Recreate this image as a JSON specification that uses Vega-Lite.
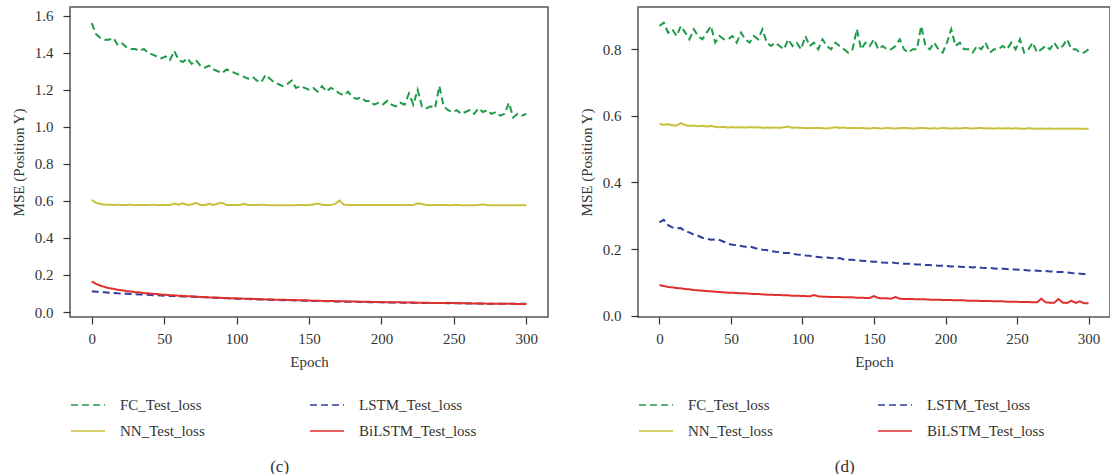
{
  "$schema": "https://vega.github.io/schema/vega-lite/v6.json",
  "background": "white",
  "padding": {"left": 10, "top": 6, "right": 0, "bottom": 0},
  "spacing": 29,
  "config": {
    "font": "Liberation Serif",
    "view": {"stroke": "#555", "strokeWidth": 1.5},
    "axis": {"domain": false, "grid": false, "ticks": true, "tickColor": "#333", "tickSize": 7, "tickWidth": 1.2, "labelFont": "Liberation Serif", "labelFontSize": 15, "labelColor": "#333", "labelPadding": 7, "titleFont": "Liberation Serif", "titleFontSize": 15, "titleFontWeight": "normal", "titleColor": "#333", "titlePadding": 8},
    "axisY": {"labelPadding": 10},
    "title": {"font": "Liberation Serif", "fontSize": 17, "fontWeight": "normal", "color": "#333"},
    "legend": {"orient": "none", "legendX": 0, "legendY": 380, "columns": 2, "columnPadding": 101, "rowPadding": -12, "title": null, "symbolType": "stroke", "symbolSize": 1156, "symbolStrokeWidth": 2, "symbolOpacity": 0.75, "labelFont": "Liberation Serif", "labelFontSize": 15, "labelColor": "#333", "labelOffset": 14, "labelLimit": 200}
  },
  "resolve": {"scale": {"color": "independent", "strokeDash": "independent"}, "legend": {"color": "independent", "strokeDash": "independent"}},
  "datasets": {
    "c": [
      {"e":0,"f":1.56,"n":0.605,"l":0.112,"b":0.165},
      {"e":3,"f":1.50,"n":0.590,"l":0.110,"b":0.152},
      {"e":6,"f":1.48,"n":0.583,"l":0.108,"b":0.142},
      {"e":9,"f":1.47,"n":0.580,"l":0.106,"b":0.135},
      {"e":12,"f":1.47,"n":0.579,"l":0.104,"b":0.129},
      {"e":15,"f":1.48,"n":0.578,"l":0.103,"b":0.125},
      {"e":18,"f":1.44,"n":0.579,"l":0.101,"b":0.120},
      {"e":21,"f":1.45,"n":0.577,"l":0.100,"b":0.117},
      {"e":24,"f":1.43,"n":0.578,"l":0.099,"b":0.113},
      {"e":27,"f":1.42,"n":0.579,"l":0.097,"b":0.111},
      {"e":30,"f":1.42,"n":0.577,"l":0.096,"b":0.107},
      {"e":33,"f":1.41,"n":0.578,"l":0.095,"b":0.106},
      {"e":36,"f":1.42,"n":0.577,"l":0.094,"b":0.102},
      {"e":39,"f":1.40,"n":0.578,"l":0.093,"b":0.101},
      {"e":42,"f":1.39,"n":0.579,"l":0.091,"b":0.098},
      {"e":45,"f":1.38,"n":0.577,"l":0.090,"b":0.097},
      {"e":48,"f":1.37,"n":0.578,"l":0.089,"b":0.094},
      {"e":51,"f":1.38,"n":0.577,"l":0.088,"b":0.093},
      {"e":54,"f":1.36,"n":0.578,"l":0.087,"b":0.091},
      {"e":57,"f":1.41,"n":0.586,"l":0.086,"b":0.090},
      {"e":60,"f":1.36,"n":0.580,"l":0.085,"b":0.088},
      {"e":63,"f":1.35,"n":0.587,"l":0.084,"b":0.087},
      {"e":66,"f":1.37,"n":0.578,"l":0.083,"b":0.085},
      {"e":69,"f":1.34,"n":0.581,"l":0.082,"b":0.085},
      {"e":72,"f":1.36,"n":0.589,"l":0.081,"b":0.083},
      {"e":75,"f":1.33,"n":0.578,"l":0.080,"b":0.081},
      {"e":78,"f":1.32,"n":0.577,"l":0.079,"b":0.081},
      {"e":81,"f":1.33,"n":0.584,"l":0.078,"b":0.079},
      {"e":84,"f":1.31,"n":0.578,"l":0.077,"b":0.078},
      {"e":87,"f":1.30,"n":0.585,"l":0.076,"b":0.078},
      {"e":90,"f":1.29,"n":0.590,"l":0.075,"b":0.076},
      {"e":93,"f":1.31,"n":0.578,"l":0.074,"b":0.076},
      {"e":96,"f":1.30,"n":0.577,"l":0.073,"b":0.074},
      {"e":99,"f":1.29,"n":0.578,"l":0.072,"b":0.074},
      {"e":102,"f":1.28,"n":0.577,"l":0.071,"b":0.073},
      {"e":105,"f":1.27,"n":0.584,"l":0.070,"b":0.072},
      {"e":108,"f":1.26,"n":0.578,"l":0.070,"b":0.071},
      {"e":111,"f":1.27,"n":0.577,"l":0.069,"b":0.071},
      {"e":114,"f":1.25,"n":0.578,"l":0.068,"b":0.070},
      {"e":117,"f":1.24,"n":0.579,"l":0.067,"b":0.069},
      {"e":120,"f":1.28,"n":0.578,"l":0.067,"b":0.068},
      {"e":123,"f":1.26,"n":0.577,"l":0.066,"b":0.068},
      {"e":126,"f":1.24,"n":0.576,"l":0.065,"b":0.067},
      {"e":129,"f":1.23,"n":0.577,"l":0.065,"b":0.066},
      {"e":132,"f":1.22,"n":0.576,"l":0.064,"b":0.066},
      {"e":135,"f":1.23,"n":0.577,"l":0.063,"b":0.065},
      {"e":138,"f":1.25,"n":0.576,"l":0.063,"b":0.065},
      {"e":141,"f":1.21,"n":0.577,"l":0.062,"b":0.064},
      {"e":144,"f":1.22,"n":0.578,"l":0.062,"b":0.063},
      {"e":147,"f":1.21,"n":0.577,"l":0.061,"b":0.064},
      {"e":150,"f":1.20,"n":0.578,"l":0.060,"b":0.062},
      {"e":153,"f":1.21,"n":0.580,"l":0.060,"b":0.061},
      {"e":156,"f":1.19,"n":0.586,"l":0.059,"b":0.061},
      {"e":159,"f":1.22,"n":0.579,"l":0.059,"b":0.060},
      {"e":162,"f":1.19,"n":0.577,"l":0.058,"b":0.060},
      {"e":165,"f":1.21,"n":0.578,"l":0.058,"b":0.059},
      {"e":168,"f":1.20,"n":0.584,"l":0.057,"b":0.059},
      {"e":171,"f":1.18,"n":0.602,"l":0.057,"b":0.058},
      {"e":174,"f":1.17,"n":0.580,"l":0.056,"b":0.058},
      {"e":177,"f":1.19,"n":0.578,"l":0.056,"b":0.057},
      {"e":180,"f":1.16,"n":0.577,"l":0.055,"b":0.057},
      {"e":183,"f":1.15,"n":0.578,"l":0.055,"b":0.056},
      {"e":186,"f":1.16,"n":0.577,"l":0.054,"b":0.056},
      {"e":189,"f":1.14,"n":0.578,"l":0.054,"b":0.055},
      {"e":192,"f":1.14,"n":0.577,"l":0.053,"b":0.055},
      {"e":195,"f":1.12,"n":0.578,"l":0.053,"b":0.054},
      {"e":198,"f":1.13,"n":0.577,"l":0.052,"b":0.054},
      {"e":201,"f":1.12,"n":0.578,"l":0.052,"b":0.053},
      {"e":204,"f":1.14,"n":0.577,"l":0.052,"b":0.053},
      {"e":207,"f":1.12,"n":0.578,"l":0.051,"b":0.053},
      {"e":210,"f":1.11,"n":0.577,"l":0.051,"b":0.052},
      {"e":213,"f":1.13,"n":0.578,"l":0.051,"b":0.052},
      {"e":216,"f":1.12,"n":0.577,"l":0.050,"b":0.051},
      {"e":219,"f":1.18,"n":0.578,"l":0.050,"b":0.051},
      {"e":222,"f":1.12,"n":0.578,"l":0.050,"b":0.051},
      {"e":225,"f":1.20,"n":0.587,"l":0.049,"b":0.050},
      {"e":228,"f":1.11,"n":0.583,"l":0.049,"b":0.050},
      {"e":231,"f":1.10,"n":0.578,"l":0.049,"b":0.050},
      {"e":234,"f":1.11,"n":0.577,"l":0.048,"b":0.049},
      {"e":237,"f":1.10,"n":0.578,"l":0.048,"b":0.049},
      {"e":240,"f":1.22,"n":0.577,"l":0.048,"b":0.049},
      {"e":243,"f":1.11,"n":0.578,"l":0.048,"b":0.048},
      {"e":246,"f":1.09,"n":0.577,"l":0.047,"b":0.050},
      {"e":249,"f":1.08,"n":0.577,"l":0.047,"b":0.048},
      {"e":252,"f":1.09,"n":0.578,"l":0.047,"b":0.048},
      {"e":255,"f":1.07,"n":0.577,"l":0.047,"b":0.047},
      {"e":258,"f":1.08,"n":0.576,"l":0.046,"b":0.047},
      {"e":261,"f":1.09,"n":0.577,"l":0.046,"b":0.047},
      {"e":264,"f":1.07,"n":0.576,"l":0.046,"b":0.046},
      {"e":267,"f":1.10,"n":0.578,"l":0.046,"b":0.046},
      {"e":270,"f":1.08,"n":0.581,"l":0.045,"b":0.046},
      {"e":273,"f":1.09,"n":0.577,"l":0.045,"b":0.045},
      {"e":276,"f":1.07,"n":0.576,"l":0.045,"b":0.045},
      {"e":279,"f":1.08,"n":0.577,"l":0.045,"b":0.045},
      {"e":282,"f":1.06,"n":0.576,"l":0.045,"b":0.045},
      {"e":285,"f":1.07,"n":0.577,"l":0.044,"b":0.044},
      {"e":288,"f":1.13,"n":0.576,"l":0.045,"b":0.044},
      {"e":291,"f":1.05,"n":0.577,"l":0.044,"b":0.044},
      {"e":294,"f":1.07,"n":0.576,"l":0.044,"b":0.043},
      {"e":297,"f":1.06,"n":0.577,"l":0.044,"b":0.043},
      {"e":300,"f":1.07,"n":0.577,"l":0.044,"b":0.043}
    ],
    "d": [
      {"e":0,"f":0.87,"n":0.577,"l":0.280,"b":0.092},
      {"e":3,"f":0.88,"n":0.573,"l":0.288,"b":0.089},
      {"e":6,"f":0.85,"n":0.575,"l":0.272,"b":0.086},
      {"e":9,"f":0.86,"n":0.572,"l":0.265,"b":0.085},
      {"e":12,"f":0.84,"n":0.571,"l":0.262,"b":0.083},
      {"e":15,"f":0.87,"n":0.578,"l":0.263,"b":0.082},
      {"e":18,"f":0.85,"n":0.572,"l":0.253,"b":0.080},
      {"e":21,"f":0.83,"n":0.570,"l":0.250,"b":0.079},
      {"e":24,"f":0.86,"n":0.571,"l":0.243,"b":0.077},
      {"e":27,"f":0.84,"n":0.569,"l":0.240,"b":0.076},
      {"e":30,"f":0.83,"n":0.570,"l":0.234,"b":0.075},
      {"e":33,"f":0.85,"n":0.568,"l":0.231,"b":0.074},
      {"e":36,"f":0.87,"n":0.570,"l":0.228,"b":0.073},
      {"e":39,"f":0.82,"n":0.567,"l":0.229,"b":0.072},
      {"e":42,"f":0.84,"n":0.566,"l":0.227,"b":0.071},
      {"e":45,"f":0.83,"n":0.567,"l":0.222,"b":0.070},
      {"e":48,"f":0.83,"n":0.565,"l":0.216,"b":0.069},
      {"e":51,"f":0.84,"n":0.566,"l":0.213,"b":0.069},
      {"e":54,"f":0.82,"n":0.565,"l":0.212,"b":0.068},
      {"e":57,"f":0.85,"n":0.566,"l":0.209,"b":0.067},
      {"e":60,"f":0.83,"n":0.565,"l":0.207,"b":0.067},
      {"e":63,"f":0.82,"n":0.566,"l":0.208,"b":0.066},
      {"e":66,"f":0.84,"n":0.565,"l":0.204,"b":0.065},
      {"e":69,"f":0.83,"n":0.566,"l":0.200,"b":0.065},
      {"e":72,"f":0.86,"n":0.564,"l":0.198,"b":0.064},
      {"e":75,"f":0.82,"n":0.565,"l":0.197,"b":0.063},
      {"e":78,"f":0.81,"n":0.564,"l":0.194,"b":0.063},
      {"e":81,"f":0.82,"n":0.565,"l":0.192,"b":0.062},
      {"e":84,"f":0.81,"n":0.564,"l":0.191,"b":0.062},
      {"e":87,"f":0.80,"n":0.566,"l":0.188,"b":0.061},
      {"e":90,"f":0.83,"n":0.568,"l":0.188,"b":0.061},
      {"e":93,"f":0.81,"n":0.564,"l":0.186,"b":0.060},
      {"e":96,"f":0.82,"n":0.565,"l":0.184,"b":0.060},
      {"e":99,"f":0.80,"n":0.564,"l":0.183,"b":0.059},
      {"e":102,"f":0.84,"n":0.563,"l":0.181,"b":0.059},
      {"e":105,"f":0.81,"n":0.564,"l":0.180,"b":0.058},
      {"e":108,"f":0.82,"n":0.563,"l":0.177,"b":0.062},
      {"e":111,"f":0.80,"n":0.564,"l":0.176,"b":0.058},
      {"e":114,"f":0.83,"n":0.563,"l":0.175,"b":0.057},
      {"e":117,"f":0.81,"n":0.562,"l":0.175,"b":0.057},
      {"e":120,"f":0.80,"n":0.564,"l":0.173,"b":0.056},
      {"e":123,"f":0.82,"n":0.566,"l":0.172,"b":0.056},
      {"e":126,"f":0.81,"n":0.564,"l":0.173,"b":0.056},
      {"e":129,"f":0.80,"n":0.565,"l":0.169,"b":0.055},
      {"e":132,"f":0.79,"n":0.563,"l":0.168,"b":0.055},
      {"e":135,"f":0.80,"n":0.564,"l":0.168,"b":0.055},
      {"e":138,"f":0.86,"n":0.563,"l":0.166,"b":0.054},
      {"e":141,"f":0.80,"n":0.564,"l":0.165,"b":0.054},
      {"e":144,"f":0.82,"n":0.563,"l":0.164,"b":0.053},
      {"e":147,"f":0.81,"n":0.562,"l":0.163,"b":0.053},
      {"e":150,"f":0.83,"n":0.564,"l":0.162,"b":0.059},
      {"e":153,"f":0.80,"n":0.563,"l":0.162,"b":0.053},
      {"e":156,"f":0.81,"n":0.562,"l":0.160,"b":0.052},
      {"e":159,"f":0.80,"n":0.564,"l":0.159,"b":0.052},
      {"e":162,"f":0.80,"n":0.563,"l":0.160,"b":0.051},
      {"e":165,"f":0.81,"n":0.562,"l":0.158,"b":0.056},
      {"e":168,"f":0.83,"n":0.563,"l":0.157,"b":0.051},
      {"e":171,"f":0.80,"n":0.564,"l":0.156,"b":0.050},
      {"e":174,"f":0.79,"n":0.563,"l":0.156,"b":0.050},
      {"e":177,"f":0.80,"n":0.562,"l":0.155,"b":0.050},
      {"e":180,"f":0.80,"n":0.563,"l":0.154,"b":0.049},
      {"e":183,"f":0.87,"n":0.564,"l":0.154,"b":0.049},
      {"e":186,"f":0.81,"n":0.563,"l":0.152,"b":0.049},
      {"e":189,"f":0.80,"n":0.562,"l":0.152,"b":0.048},
      {"e":192,"f":0.82,"n":0.563,"l":0.151,"b":0.048},
      {"e":195,"f":0.80,"n":0.562,"l":0.150,"b":0.048},
      {"e":198,"f":0.79,"n":0.564,"l":0.150,"b":0.047},
      {"e":201,"f":0.82,"n":0.563,"l":0.149,"b":0.047},
      {"e":204,"f":0.86,"n":0.562,"l":0.148,"b":0.047},
      {"e":207,"f":0.81,"n":0.563,"l":0.148,"b":0.046},
      {"e":210,"f":0.82,"n":0.562,"l":0.147,"b":0.046},
      {"e":213,"f":0.80,"n":0.564,"l":0.146,"b":0.046},
      {"e":216,"f":0.80,"n":0.563,"l":0.146,"b":0.045},
      {"e":219,"f":0.79,"n":0.562,"l":0.145,"b":0.045},
      {"e":222,"f":0.81,"n":0.563,"l":0.147,"b":0.045},
      {"e":225,"f":0.80,"n":0.564,"l":0.144,"b":0.044},
      {"e":228,"f":0.82,"n":0.562,"l":0.143,"b":0.044},
      {"e":231,"f":0.79,"n":0.563,"l":0.143,"b":0.044},
      {"e":234,"f":0.80,"n":0.562,"l":0.142,"b":0.043},
      {"e":237,"f":0.80,"n":0.563,"l":0.141,"b":0.043},
      {"e":240,"f":0.81,"n":0.562,"l":0.141,"b":0.043},
      {"e":243,"f":0.80,"n":0.563,"l":0.140,"b":0.042},
      {"e":246,"f":0.82,"n":0.562,"l":0.139,"b":0.042},
      {"e":249,"f":0.80,"n":0.563,"l":0.139,"b":0.042},
      {"e":252,"f":0.83,"n":0.562,"l":0.138,"b":0.041},
      {"e":255,"f":0.79,"n":0.561,"l":0.137,"b":0.041},
      {"e":258,"f":0.80,"n":0.563,"l":0.136,"b":0.041},
      {"e":261,"f":0.82,"n":0.562,"l":0.136,"b":0.040},
      {"e":264,"f":0.79,"n":0.561,"l":0.135,"b":0.040},
      {"e":267,"f":0.80,"n":0.562,"l":0.134,"b":0.051},
      {"e":270,"f":0.81,"n":0.561,"l":0.134,"b":0.040},
      {"e":273,"f":0.80,"n":0.562,"l":0.133,"b":0.039},
      {"e":276,"f":0.82,"n":0.561,"l":0.132,"b":0.039},
      {"e":279,"f":0.80,"n":0.562,"l":0.131,"b":0.050},
      {"e":282,"f":0.81,"n":0.561,"l":0.131,"b":0.039},
      {"e":285,"f":0.83,"n":0.562,"l":0.130,"b":0.038},
      {"e":288,"f":0.80,"n":0.561,"l":0.128,"b":0.045},
      {"e":291,"f":0.80,"n":0.562,"l":0.127,"b":0.038},
      {"e":294,"f":0.79,"n":0.561,"l":0.126,"b":0.043},
      {"e":297,"f":0.79,"n":0.561,"l":0.125,"b":0.037},
      {"e":300,"f":0.80,"n":0.561,"l":0.123,"b":0.037}
    ]
  },
  "hconcat": [
    {
      "width": 478,
      "height": 310,
      "data": {"name": "c"},
      "transform": [{"fold": ["f", "l", "n", "b"], "as": ["k", "v"]}],
      "mark": {"type": "line", "strokeWidth": 2, "clip": true},
      "title": {"text": "(c)", "orient": "bottom", "anchor": "middle", "frame": "bounds", "offset": 20},
      "encoding": {
        "x": {"field": "e", "type": "quantitative", "scale": {"domain": [-15, 315], "nice": false, "zero": false}, "axis": {"values": [0, 50, 100, 150, 200, 250, 300], "title": "Epoch"}},
        "y": {"field": "v", "type": "quantitative", "scale": {"domain": [-0.027, 1.647], "nice": false, "zero": false}, "axis": {"values": [0, 0.2, 0.4, 0.6, 0.8, 1.0, 1.2, 1.4, 1.6], "format": ".1f", "title": "MSE (Position Y)"}},
        "color": {"field": "k", "type": "nominal", "scale": {"domain": ["f", "n", "l", "b"], "range": ["#1e9a48", "#c9c03c", "#2e3e9a", "#e0302e"]},
          "legend": {"labelExpr": "datum.label == 'f' ? 'FC_Test_loss' : datum.label == 'l' ? 'LSTM_Test_loss' : datum.label == 'n' ? 'NN_Test_loss' : 'BiLSTM_Test_loss'"}},
        "strokeDash": {"field": "k", "type": "nominal", "scale": {"domain": ["f", "n", "l", "b"], "range": [[7, 4], [1, 0], [7, 4], [1, 0]]},
          "legend": {"labelExpr": "datum.label == 'f' ? 'FC_Test_loss' : datum.label == 'l' ? 'LSTM_Test_loss' : datum.label == 'n' ? 'NN_Test_loss' : 'BiLSTM_Test_loss'"}}
      }
    },
    {
      "width": 472,
      "height": 310,
      "data": {"name": "d"},
      "transform": [{"fold": ["f", "l", "n", "b"], "as": ["k", "v"]}],
      "mark": {"type": "line", "strokeWidth": 2, "clip": true},
      "title": {"text": "(d)", "orient": "bottom", "anchor": "middle", "frame": "bounds", "offset": 20},
      "encoding": {
        "x": {"field": "e", "type": "quantitative", "scale": {"domain": [-15, 315], "nice": false, "zero": false}, "axis": {"values": [0, 50, 100, 150, 200, 250, 300], "title": "Epoch"}},
        "y": {"field": "v", "type": "quantitative", "scale": {"domain": [-0.004, 0.927], "nice": false, "zero": false}, "axis": {"values": [0, 0.2, 0.4, 0.6, 0.8], "format": ".1f", "title": "MSE (Position Y)"}},
        "color": {"field": "k", "type": "nominal", "scale": {"domain": ["f", "n", "l", "b"], "range": ["#1e9a48", "#c9c03c", "#2e3e9a", "#e0302e"]},
          "legend": {"labelExpr": "datum.label == 'f' ? 'FC_Test_loss' : datum.label == 'l' ? 'LSTM_Test_loss' : datum.label == 'n' ? 'NN_Test_loss' : 'BiLSTM_Test_loss'"}},
        "strokeDash": {"field": "k", "type": "nominal", "scale": {"domain": ["f", "n", "l", "b"], "range": [[7, 4], [1, 0], [7, 4], [1, 0]]},
          "legend": {"labelExpr": "datum.label == 'f' ? 'FC_Test_loss' : datum.label == 'l' ? 'LSTM_Test_loss' : datum.label == 'n' ? 'NN_Test_loss' : 'BiLSTM_Test_loss'"}}
      }
    }
  ]
}
